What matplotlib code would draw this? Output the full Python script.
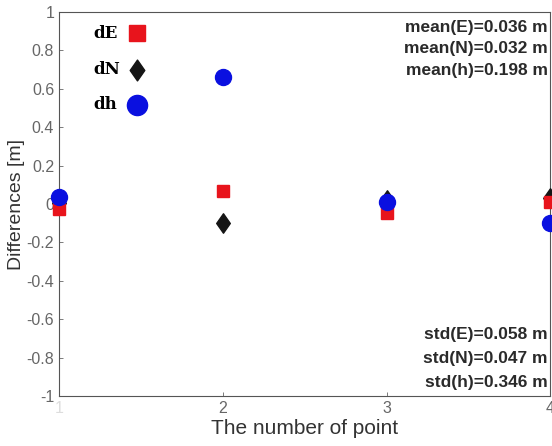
import matplotlib.pyplot as plt
from matplotlib.path import Path

# point numbers and differences
points = [1, 2, 3, 4]
dE = [-0.025, 0.067, -0.045, 0.01]
dN = [0.005, -0.10, 0.02, 0.03]
dh = [0.035, 0.66, 0.01, -0.10]

mean_lines = ["mean(E)=0.036 m", "mean(N)=0.032 m", "mean(h)=0.198 m"]
std_lines = ["std(E)=0.058 m", "std(N)=0.047 m", "std(h)=0.346 m"]
yticks = [-1, -0.8, -0.6, -0.4, -0.2, 0, 0.2, 0.4, 0.6, 0.8, 1]
ytick_labels = ["-1", "-0.8", "-0.6", "-0.4", "-0.2", "0", "0.2", "0.4", "0.6", "0.8", "1"]

plt.rcParams['font.family'] = ['Liberation Sans', 'DejaVu Sans']

# taller-than-wide diamond like the one in the picture
diamond = Path([(0, 1), (0.7, 0), (0, -1), (-0.7, 0), (0, 1)],
               [Path.MOVETO, Path.LINETO, Path.LINETO, Path.LINETO, Path.CLOSEPOLY])

RED, BLACK, BLUE = '#e8141c', '#151515', '#0a10e0'

fig = plt.figure(dpi=100, figsize=(5.52, 4.46))
ax = fig.add_axes([0.107, 0.112, 0.89, 0.861])

ax.plot(points, dN, marker=diamond, ls='none', color=BLACK, markersize=14, clip_on=False, zorder=3)
ax.plot(points, dE, 's', color=RED, markersize=8.5, clip_on=False, zorder=3)
ax.plot(points, dh, 'o', color=BLUE, markersize=11.5, clip_on=False, zorder=4)

ax.set_xlim(1, 4)
ax.set_ylim(-1, 1)
ax.set_xticks(points)
ax.set_xticklabels(["1", "2", "3", "4"])
ax.set_yticks(yticks)
ax.set_yticklabels(ytick_labels)
ax.tick_params(direction='in', length=3, colors='#666666', labelsize=11.5, width=0.6)
ax.get_xticklabels()[0].set_color('#dddddd')
for s in ax.spines.values():
    s.set_color('#555555')
    s.set_linewidth(0.8)

ax.set_xlabel("The number of point", fontsize=15, color='#333333', labelpad=2)
ax.set_ylabel("Differences [m]", fontsize=14, color='#333333', labelpad=1)

# hand-made legend
leg_y = [0.945, 0.85, 0.758]
leg_txt = ["dE", "dN", "dh"]
leg_style = [('s', RED, 11), (diamond, BLACK, 15), ('o', BLUE, 14.5)]
for y, t, (m, c, ms) in zip(leg_y, leg_txt, leg_style):
    ax.text(0.07, y, t, transform=ax.transAxes, fontsize=12, fontweight='bold',
            family='DejaVu Serif', va='center', ha='left')
    ax.plot([0.159], [y], marker=m, ls='none', color=c, markersize=ms,
            transform=ax.transAxes, clip_on=False)

for i, t in enumerate(mean_lines):
    ax.text(0.995, 0.961 - i * 0.057, t, transform=ax.transAxes, ha='right', va='center',
            fontsize=12.5, fontweight='bold', color='#2a2a2a')
for i, t in enumerate(std_lines):
    ax.text(0.995, 0.159 - i * 0.062, t, transform=ax.transAxes, ha='right', va='center',
            fontsize=12.5, fontweight='bold', color='#2a2a2a')

plt.savefig("out.png", dpi=100)
